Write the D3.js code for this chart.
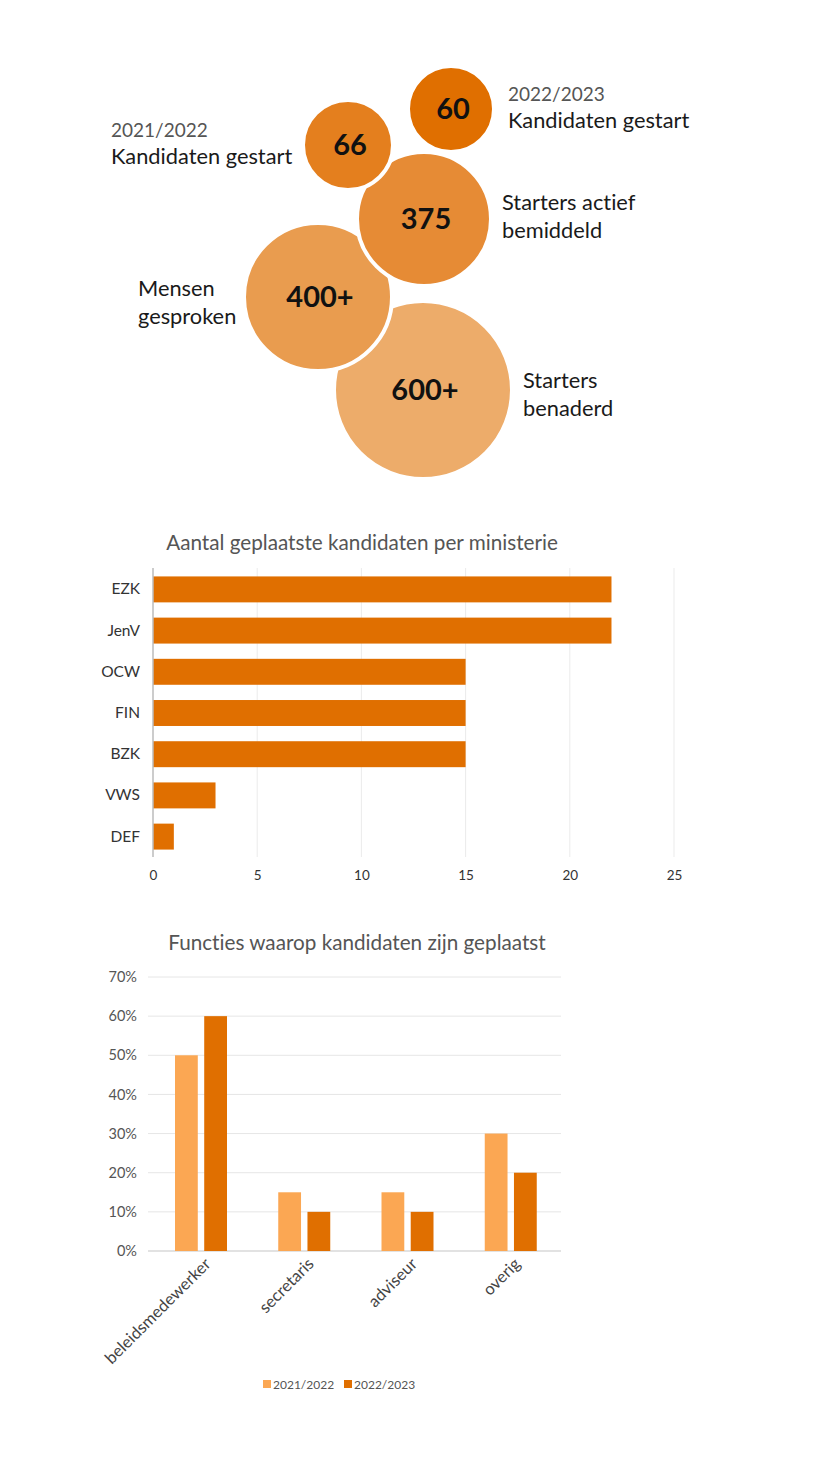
<!DOCTYPE html>
<html>
<head>
<meta charset="utf-8">
<script src="https://cdn.jsdelivr.net/npm/d3@7"></script>
<style>
  body { margin: 0; background: #fff; }
  svg { display: block; font-family: Lato, "Open Sans", sans-serif; font-variant-ligatures: none; }
</style>
</head>
<body>
<svg id="viz" width="830" height="1465"></svg>
<script>
// bubble figures
var bubbleValues = ['600+', '400+', '375', '66', '60'];
var bubbleSizes = [89, 74, 67, 45, 43];
var bubbleLabels = [
  ['Starters', 'benaderd'],
  ['Mensen', 'gesproken'],
  ['Starters actief', 'bemiddeld'],
  ['Kandidaten gestart'],
  ['Kandidaten gestart']
];
var bubbleYears = ['', '', '', '2021/2022', '2022/2023'];

// ministries
var ministries = ['EZK', 'JenV', 'OCW', 'FIN', 'BZK', 'VWS', 'DEF'];
var placed = [22, 22, 15, 15, 15, 3, 1];
var placedTicks = [0, 5, 10, 15, 20, 25];

// functions
var functies = ['beleidsmedewerker', 'secretaris', 'adviseur', 'overig'];
var years = ['2021/2022', '2022/2023'];
var share2122 = [50, 15, 15, 30];
var share2223 = [60, 10, 10, 20];
var shareTicks = [0, 10, 20, 30, 40, 50, 60, 70];

var svg = d3.select('#viz');

// ---------- bubbles ----------
var bubblePos = [[423, 390], [318, 297], [424, 219], [348, 145], [451, 109]];
var bubbleFill = ['#edac6a', '#e99c4f', '#e68b35', '#e47f1e', '#e06f00'];
var labelPos = [[523, 388], [138, 296], [502, 210], [111, 164], [508, 128]];
var yearPos = [null, null, null, [111, 137], [508, 101]];

var bub = svg.append('g');
bubbleValues.forEach(function (v, i) {
  bub.append('circle')
    .attr('cx', bubblePos[i][0])
    .attr('cy', bubblePos[i][1])
    .attr('r', bubbleSizes[i])
    .attr('fill', bubbleFill[i])
    .attr('stroke', '#fff')
    .attr('stroke-width', 4);
});
bubbleValues.forEach(function (v, i) {
  bub.append('text')
    .attr('x', bubblePos[i][0] + 2)
    .attr('y', bubblePos[i][1] + 10)
    .attr('text-anchor', 'middle')
    .style('font-size', '29px')
    .style('font-weight', 'bold')
    .style('fill', '#111')
    .text(v);
  bubbleLabels[i].forEach(function (l, j) {
    bub.append('text')
      .attr('x', labelPos[i][0])
      .attr('y', labelPos[i][1] + j * 28)
      .style('font-size', '21.8px')
      .style('fill', '#1a1a1a')
      .text(l);
  });
  if (bubbleYears[i]) {
    bub.append('text')
      .attr('x', yearPos[i][0])
      .attr('y', yearPos[i][1])
      .style('font-size', '19px')
      .style('fill', '#555')
      .text(bubbleYears[i]);
  }
});

// ---------- horizontal bar chart ----------
var hx = d3.scaleLinear().domain([0, 25]).range([153, 674]);
var hy = d3.scaleBand().domain(ministries).range([569, 857]).paddingInner(0.37).paddingOuter(0.18);

svg.append('text')
  .attr('x', 362)
  .attr('y', 550)
  .attr('text-anchor', 'middle')
  .style('font-size', '20.7px')
  .style('fill', '#555')
  .text('Aantal geplaatste kandidaten per ministerie');

svg.append('g')
  .selectAll('line')
  .data(placedTicks.slice(1))
  .join('line')
  .attr('x1', (d) => hx(d))
  .attr('x2', (d) => hx(d))
  .attr('y1', 568)
  .attr('y2', 857)
  .attr('stroke', '#ebebeb')
  .attr('stroke-width', 1);

svg.append('g')
  .selectAll('rect')
  .data(placed)
  .join('rect')
  .attr('x', hx(0))
  .attr('y', (d, i) => hy(ministries[i]))
  .attr('width', (d) => hx(d) - hx(0))
  .attr('height', hy.bandwidth())
  .attr('fill', '#e06f00');

svg.append('line')
  .attr('x1', hx(0))
  .attr('x2', hx(0))
  .attr('y1', 568)
  .attr('y2', 857)
  .attr('stroke', '#bbb')
  .attr('stroke-width', 1.5);

var hyAxis = svg.append('g')
  .attr('transform', 'translate(' + (hx(0) - 4) + ',0)')
  .call(d3.axisLeft(hy).tickSize(0).tickPadding(9));
hyAxis.select('.domain').remove();
hyAxis.selectAll('text')
  .style('font-family', 'Lato, "Open Sans", sans-serif')
  .style('font-size', '15.5px')
  .style('fill', '#333');

var hxAxis = svg.append('g')
  .attr('transform', 'translate(0,870)')
  .call(d3.axisBottom(hx).tickValues(placedTicks).tickSize(0).tickPadding(0));
hxAxis.select('.domain').remove();
hxAxis.selectAll('text')
  .style('font-family', 'Lato, "Open Sans", sans-serif')
  .style('font-size', '13.5px')
  .style('fill', '#333');

// ---------- grouped column chart ----------
var vy = d3.scaleLinear().domain([0, 70]).range([1251, 977]);
var vx0 = d3.scaleBand().domain(functies).range([148, 561]);
var vx1 = d3.scaleBand().domain(years).range([27, 79]).paddingInner(0.22);
var colColor = d3.scaleOrdinal().domain(years).range(['#fba753', '#e06f00']);

svg.append('text')
  .attr('x', 357)
  .attr('y', 950)
  .attr('text-anchor', 'middle')
  .style('font-size', '20.7px')
  .style('fill', '#555')
  .text('Functies waarop kandidaten zijn geplaatst');

svg.append('g')
  .selectAll('line')
  .data(shareTicks)
  .join('line')
  .attr('x1', 148)
  .attr('x2', 561)
  .attr('y1', (d) => vy(d))
  .attr('y2', (d) => vy(d))
  .attr('stroke', (d) => (d === 0 ? '#d9d9d9' : '#e6e6e6'))
  .attr('stroke-width', (d) => (d === 0 ? 1.5 : 1));

var vyAxis = svg.append('g')
  .attr('transform', 'translate(137,0)')
  .call(d3.axisLeft(vy).tickValues(shareTicks).tickSize(0).tickPadding(0).tickFormat((d) => d + '%'));
vyAxis.select('.domain').remove();
vyAxis.selectAll('text')
  .style('font-family', 'Lato, "Open Sans", sans-serif')
  .style('font-size', '14.5px')
  .style('fill', '#555');

var groups = svg.append('g')
  .selectAll('g')
  .data(functies)
  .join('g')
  .attr('transform', (d) => 'translate(' + vx0(d) + ',0)');

groups.selectAll('rect')
  .data((d, i) => [
    { year: years[0], value: share2122[i] },
    { year: years[1], value: share2223[i] }
  ])
  .join('rect')
  .attr('x', (d) => vx1(d.year))
  .attr('y', (d) => vy(d.value))
  .attr('width', vx1.bandwidth())
  .attr('height', (d) => vy(0) - vy(d.value))
  .attr('fill', (d) => colColor(d.year));

var vxAxis = svg.append('g')
  .attr('transform', 'translate(5,1258)')
  .call(d3.axisBottom(vx0).tickSize(0).tickPadding(0));
vxAxis.select('.domain').remove();
vxAxis.selectAll('text')
  .attr('transform', 'rotate(-45)')
  .attr('dy', '0.6em')
  .style('text-anchor', 'end')
  .style('font-family', 'Lato, "Open Sans", sans-serif')
  .style('font-size', '16.5px')
  .style('fill', '#444');

// legend
var legend = svg.append('g');
years.forEach(function (y, i) {
  var lx = 263 + i * 81;
  legend.append('rect')
    .attr('x', lx)
    .attr('y', 1380)
    .attr('width', 8)
    .attr('height', 8)
    .attr('fill', colColor(y));
  legend.append('text')
    .attr('x', lx + 10)
    .attr('y', 1389)
    .style('font-size', '12px')
    .style('fill', '#555')
    .text(y);
});
</script>
</body>
</html>
